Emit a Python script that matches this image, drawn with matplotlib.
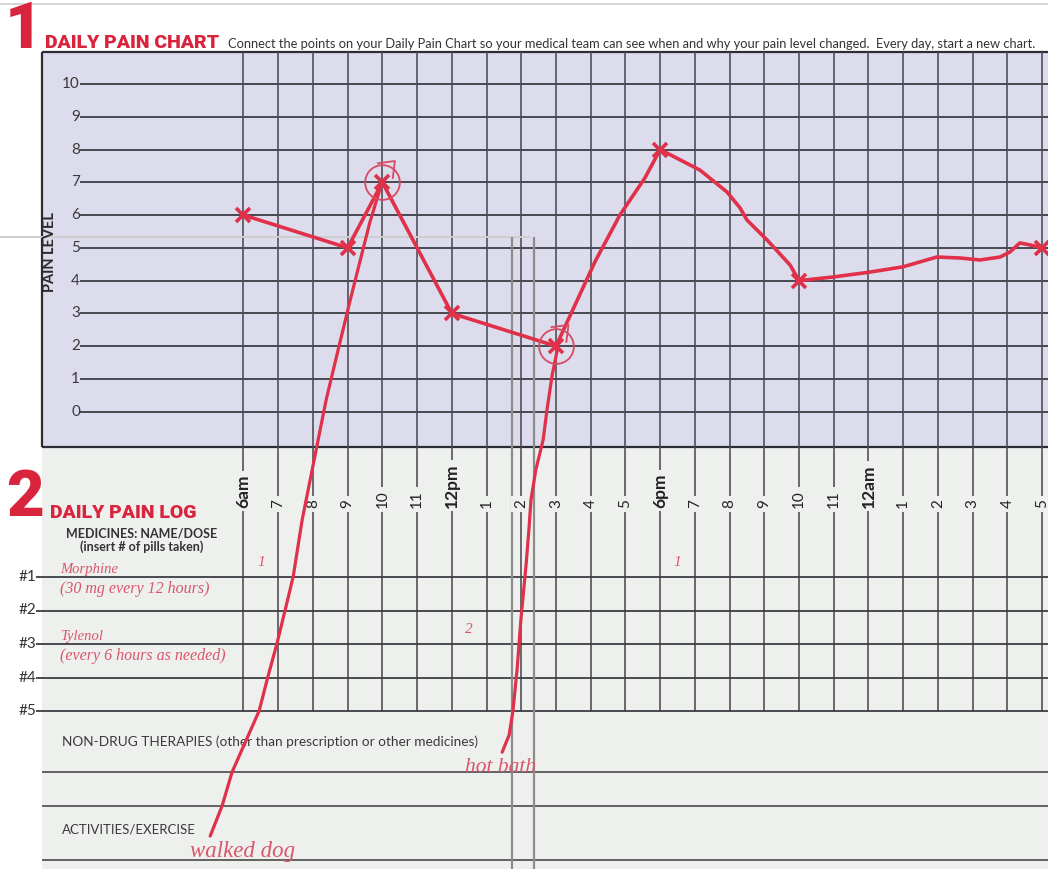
import matplotlib.pyplot as plt
from matplotlib.patches import Rectangle

W, H = 1048, 869

hour_ticks = list(range(6, 30))
hour_labels = ["6am", "7", "8", "9", "10", "11", "12pm", "1", "2", "3", "4", "5",
               "6pm", "7", "8", "9", "10", "11", "12am", "1", "2", "3", "4", "5"]
bold_labels = ["6am", "12pm", "6pm", "12am"]
pain_levels = list(range(0, 11))

# the X marks (hour of day, pain level)
mark_hours = [6, 9, 10, 12, 15, 18, 22, 29]
mark_pain = [6, 5, 7, 3, 2, 8, 4, 5]

# hand drawn line joining the marks
trace_hours = [6, 9, 10, 12, 15, 15.55, 16.12, 16.84, 17.56, 18, 19.15, 19.93, 20.3,
               20.5, 21.08, 21.74, 22, 22.98, 24.04, 24.99, 25.97, 26.64, 27.21,
               27.79, 28.07, 28.36, 28.65, 29]
trace_pain = [6, 5, 7, 3, 2, 3.26, 4.57, 6.0, 7.13, 8, 7.37, 6.7, 6.22, 5.85, 5.24,
              4.48, 4, 4.11, 4.26, 4.42, 4.72, 4.69, 4.63, 4.72, 4.87, 5.15, 5.09, 5]

circled_hours = [10, 15]
circled_pain = [7, 2]

# hand drawn pointers from a circled mark down to a note
dog_hours = [9.99, 9.64, 9.35, 9.04, 8.69, 8.38, 8.15, 7.92, 7.69, 7.43, 7.2, 6.96,
             6.7, 6.45, 5.67, 5.38, 5.04]
dog_pain = [7.0, 5.78, 4.57, 3.26, 1.73, 0.36, -0.86, -2.08, -3.3, -5.04, -6.05,
            -7.09, -8.1, -9.13, -11.0, -12.04, -12.95]
bath_hours = [15.06, 14.89, 14.74, 14.63, 14.42, 14.28, 14.22, 14.14, 13.99, 13.88,
              13.76, 13.65, 13.45]
bath_pain = [2.0, 1.12, 0.05, -0.86, -1.77, -2.69, -3.6, -4.66, -6.34, -7.87, -9.13,
             -9.87, -10.39]

# pills taken: hour cell, medicine row, count
pill_hours = [6.5, 18.5, 12.5]
pill_rows = [1, 1, 3]
pill_counts = ["1", "1", "2"]

med_rows = ["#1", "#2", "#3", "#4", "#5"]
med_names = ["Morphine", "Tylenol"]
med_doses = ["(30 mg every 12 hours)", "(every 6 hours as needed)"]

RED = "#d8243c"
INK = "#e0304a"
PEN = "#d9566c"
GRID = "#3c3c44"
CHART_BG = "#dcdcec"
LOG_BG = "#eef0ee"
FONT = ["Lato", "DejaVu Sans"]
HEAD = ["Roboto", "DejaVu Sans"]
HAND = ["Liberation Serif", "DejaVu Serif"]

# pixel -> data helpers (x: hour of day, y: pain level)
def hx(p):
    return 6 + (p - 243.5) / 34.72

def ly(p):
    return (411.7 - p) / 32.77

def row_y(k):
    return ly(577 + 33.5 * (k - 1))

fig = plt.figure(figsize=(W / 100, H / 100), dpi=100)
ax = fig.add_axes([0, 0, 1, 1])
ax.set_xlim(hx(0), hx(W))
ax.set_ylim(ly(H), ly(0))
ax.axis("off")

# backgrounds
ax.add_patch(Rectangle((hx(42), ly(447)), hx(W + 5) - hx(42), ly(52) - ly(447),
                       fc=CHART_BG, ec="none", zorder=0))
ax.add_patch(Rectangle((hx(42), ly(H + 5)), hx(W + 5) - hx(42), ly(447) - ly(H + 5),
                       fc=LOG_BG, ec="none", zorder=0))
ax.hlines(ly(4), hx(0), hx(W), color="#d6d6d6", lw=1.5, zorder=1)

# chart frame and grid
ax.vlines(hx(42), ly(447), ly(52), color="#2c2c34", lw=1.6, zorder=2)
ax.hlines([ly(52), ly(447)], hx(42), hx(W), color="#2c2c34", lw=1.6, zorder=2)
ax.hlines(pain_levels, hx(80), hx(W), color=GRID, lw=1.3, zorder=2)
ax.vlines(hour_ticks, ly(711), ly(52), color="#4a4a52", lw=1.15, zorder=2)
for lvl in pain_levels:
    ax.text(hx(80), lvl, str(lvl), ha="right", va="center", fontsize=11,
            color="#3a3a3a", family=FONT, zorder=3)
ax.text(hx(50), ly(252), "PAIN LEVEL", rotation=90, ha="center", va="center",
        fontsize=10.5, fontweight="bold", color="#2a2a2a", family=FONT)

for h, lab in zip(hour_ticks, hour_labels):
    bold = lab in bold_labels
    ax.text(h, ly(508), lab, rotation=90, ha="center", va="bottom",
            fontsize=12.5 if bold else 11, fontweight="bold" if bold else "normal",
            color="#222222", family=FONT, zorder=3,
            bbox=dict(fc=LOG_BG, ec="none", pad=2.5))

# medicine log rows
ax.hlines([row_y(k) for k in range(1, 6)], hx(36), hx(W), color=GRID, lw=1.3, zorder=2)
for k, lab in enumerate(med_rows, start=1):
    ax.text(hx(36), row_y(k), lab, ha="right", va="center", fontsize=11,
            color="#333333", family=FONT)
ax.hlines([ly(772), ly(806), ly(860)], hx(42), hx(W), color="#4a4a4a", lw=1.2, zorder=2)

# overlaid window edges from the screenshot
ax.hlines(ly(237), hx(0), hx(530), color="#cdcdcd", lw=1.4, zorder=2)
ax.vlines([hx(512), hx(534)], ly(H), ly(237), color="#8c8c8c", lw=1.6, zorder=2)

# headings
ax.text(hx(5), ly(48), "1", fontsize=47, fontweight="black", color=RED, family=HEAD,
        va="baseline")
ax.text(hx(45), ly(48), "DAILY PAIN CHART", fontsize=14, fontweight="black",
        color=RED, family=HEAD, va="baseline")
ax.text(hx(228), ly(48), "Connect the points on your Daily Pain Chart so your medical "
        "team can see when and why your pain level changed.  Every day, start a new chart.",
        fontsize=9.3, color="#333333", family=FONT, va="baseline")
ax.text(hx(6), ly(516), "2", fontsize=47, fontweight="black", color=RED, family=HEAD,
        va="baseline")
ax.text(hx(50), ly(518), "DAILY PAIN LOG", fontsize=14, fontweight="black",
        color=RED, family=HEAD, va="baseline")
ax.text(hx(142), ly(533), "MEDICINES: NAME/DOSE", ha="center", va="center",
        fontsize=9, fontweight="bold", color="#333333", family=FONT)
ax.text(hx(142), ly(547), "(insert # of pills taken)", ha="center", va="center",
        fontsize=9, fontweight="bold", color="#333333", family=FONT)
ax.text(hx(62), ly(742), "NON-DRUG THERAPIES (other than prescription or other medicines)",
        va="center", fontsize=9.8, color="#3a3a3a", family=FONT)
ax.text(hx(62), ly(830), "ACTIVITIES/EXERCISE", va="center", fontsize=9.5,
        color="#3a3a3a", family=FONT)

# handwriting
for k, (name, dose) in enumerate(zip(med_names, med_doses)):
    ax.text(hx(60), row_y(2 * k + 1) + 0.22, name, va="center", fontsize=10.5,
            style="italic", color=PEN, family=HAND)
    ax.text(hx(60), row_y(2 * k + 1) - 0.36, dose, va="center", fontsize=11.5,
            style="italic", color=PEN, family=HAND)
for h, r, c in zip(pill_hours, pill_rows, pill_counts):
    ax.text(h, row_y(r) + 0.43, c, ha="center", va="center", fontsize=11,
            style="italic", color=PEN, family=HAND)
ax.text(hx(465), ly(768), "hot bath", ha="left", va="center",
        fontsize=15.5, style="italic", color=PEN, family=HAND)
ax.text(hx(190), ly(852), "walked dog", ha="left", va="center",
        fontsize=16.5, style="italic", color=PEN, family=HAND)

# pain line, pointers and marks
ax.plot(trace_hours, trace_pain, color=INK, lw=2.6, solid_joinstyle="round",
        solid_capstyle="round", zorder=5)
ax.plot(dog_hours, dog_pain, color=INK, lw=2.3, solid_joinstyle="round",
        solid_capstyle="round", zorder=5)
ax.plot(bath_hours, bath_pain, color=INK, lw=2.3, solid_joinstyle="round",
        solid_capstyle="round", zorder=5)
ax.plot(mark_hours, mark_pain, "x", color=INK, ms=10, mew=2.6, zorder=6)
ax.plot(circled_hours, circled_pain, "o", mfc="none", mec="#d84a62", ms=25, mew=1.3,
        zorder=6)
for h, p in zip(circled_hours, circled_pain):
    ax.plot([h - 0.13, h + 0.36, h + 0.3], [p + 0.58, p + 0.65, p + 0.13],
            color="#d84a62", lw=1.3, zorder=6)

fig.savefig("out.png", dpi=100)
